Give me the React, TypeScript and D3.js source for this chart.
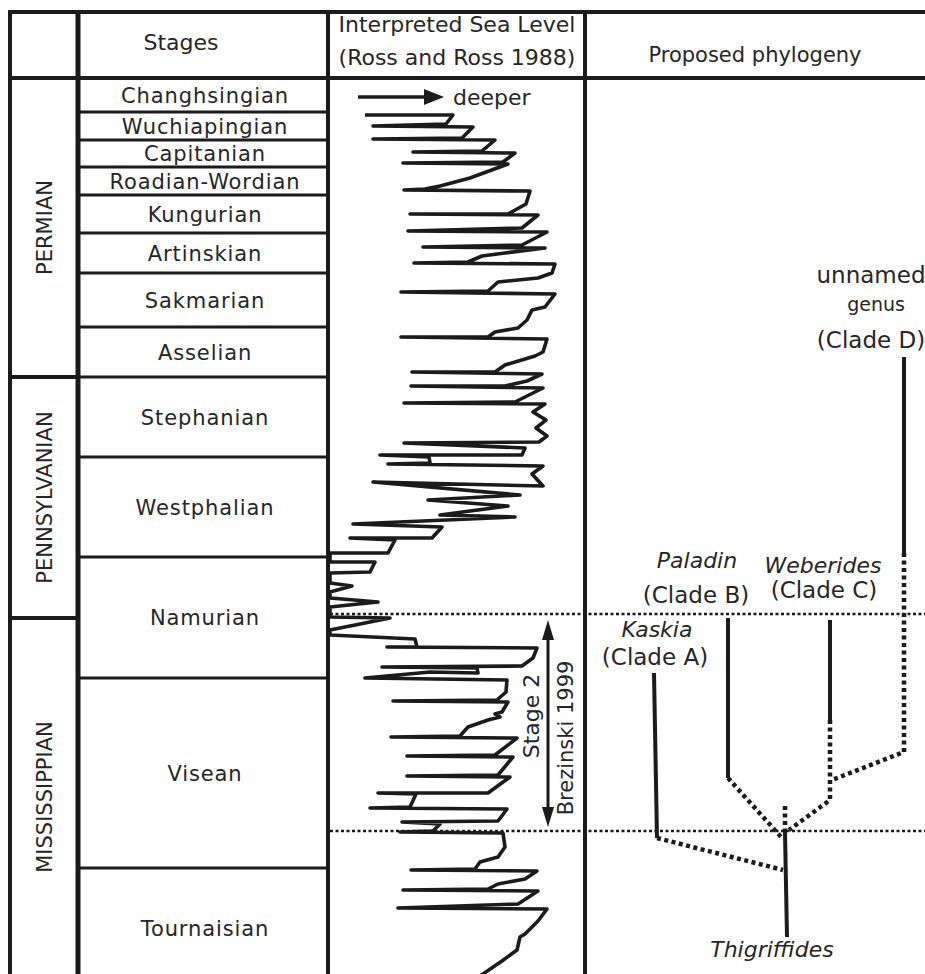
import React from 'react';
import * as d3 from 'd3';

const W = 925;
const H = 974;

// ---------- stratigraphy ----------
const stageNames = [
  'Changhsingian', 'Wuchiapingian', 'Capitanian', 'Roadian-Wordian', 'Kungurian',
  'Artinskian', 'Sakmarian', 'Asselian', 'Stephanian', 'Westphalian',
  'Namurian', 'Visean', 'Tournaisian',
];
const stageBounds = [0, 34, 62, 89, 117, 155, 195, 249, 299, 379, 479, 600, 790, 910];
const periodNames = ['PERMIAN', 'PENNSYLVANIAN', 'MISSISSIPPIAN'];
const periodBounds = [0, 299, 540, 910];

// ---------- sea level curve (Ross & Ross 1988): depth (right = deeper), stratigraphic position ----------
const seaLevelDepth = [
  37, 125, 118, 45, 145, 134, 45, 167, 154, 85, 187, 175, 75, 180, 142, 112, 97, 76, 202, 198,
  180, 82, 210, 194, 80, 219, 194, 95, 217, 177, 154, 140, 86, 227, 224, 210, 170, 160, 73, 227,
  217, 204, 199, 190, 167, 160, 73, 219, 215, 207, 177, 167, 84, 214, 199, 177, 83, 215, 187, 76,
  217, 205, 218, 208, 219, 211, 76, 197, 194, 52, 101, 102, 60, 215, 204, 215, 45, 192, 100, 180,
  112, 187, 25, 114, 104, 22, 67, 60, 2, 2, 47, 42, 2, 2, 24, 2, 2, 50, 2, 2,
  62, 2, 2, 87, 89, 85, 59, 209, 205, 194, 54, 149, 150, 102, 37, 179, 178, 169, 65, 180,
  174, 167, 172, 160, 140, 132, 63, 189, 167, 79, 185, 170, 79, 182, 160, 50, 88, 82, 42, 179,
  170, 74, 112, 105, 72, 175, 177, 170, 152, 147, 83, 209, 197, 170, 160, 75, 210, 190, 70, 219,
  210, 197, 192, 189, 174, 152,
];
const seaLevelPos = [
  37, 37, 46, 48, 49, 60, 61, 62, 73, 74, 75, 84, 85, 86, 100, 108, 111, 112, 113, 126,
  136, 136, 137, 150, 153, 154, 167, 169, 170, 175, 178, 184, 185, 186, 195, 200, 204, 213, 214, 216,
  229, 232, 242, 250, 254, 259, 259, 261, 274, 278, 287, 294, 294, 296, 303, 308, 308, 310, 324, 325,
  326, 334, 342, 350, 358, 364, 365, 370, 377, 377, 379, 385, 386, 388, 396, 408, 404, 417, 422, 428,
  437, 439, 446, 449, 460, 460, 462, 475, 475, 484, 484, 494, 495, 505, 508, 514, 520, 524, 529, 539,
  540, 552, 557, 561, 569, 569, 569, 570, 580, 588, 589, 590, 595, 594, 600, 602, 614, 622, 623, 624,
  634, 636, 639, 642, 649, 658, 659, 660, 677, 678, 679, 697, 698, 699, 715, 715, 716, 729, 730, 731,
  743, 744, 746, 753, 754, 755, 769, 779, 784, 791, 792, 793, 801, 806, 811, 812, 813, 826, 830, 831,
  843, 856, 859, 872, 883, 898,
];

const stage2Span = [542, 749];
const correlationLevels = [536, 753];

// ---------- proposed phylogeny (x: morphological spread, y: stratigraphic position) ----------
const branchSolid = [
  [[319, 279], [319, 475]],
  [[245, 542], [245, 642]],
  [[143, 540], [143, 700]],
  [[200, 754], [202, 859]],
  [[69, 595], [72, 760]],
];
const branchDotted = [
  [[319, 475], [319, 674], [247, 702]],
  [[245, 642], [245, 722], [204, 752]],
  [[143, 700], [197, 760]],
  [[200, 728], [200, 754]],
  [[72, 760], [198, 792]],
];
const taxonLabels = [
  { text: 'Paladin', italic: true, size: 22 },
  { text: '(Clade B)', italic: false, size: 23 },
  { text: 'Weberides', italic: true, size: 22 },
  { text: '(Clade C)', italic: false, size: 23 },
  { text: 'Kaskia', italic: true, size: 22 },
  { text: '(Clade A)', italic: false, size: 23 },
  { text: 'Thigriffides', italic: true, size: 22 },
  { text: 'unnamed', italic: false, size: 23 },
  { text: 'genus', italic: false, size: 19 },
  { text: '(Clade D)', italic: false, size: 23 },
];
const taxonAnchors = [
  [112, 490], [111, 525], [238, 495], [239, 520], [72, 559],
  [70, 587], [187, 879], [286, 205], [291, 233], [286, 270],
];

const FONT = "'DejaVu Sans', sans-serif";
const INK = '#1b1b1b';
const TXT = '#262626';

export default function App() {
  const yPos = d3.scaleLinear().domain([0, 896]).range([78, 974]);
  const xSea = d3.scaleLinear().domain([0, 257]).range([328, 585]);
  const xPhy = d3.scaleLinear().domain([0, 340]).range([585, 925]);

  const seaPts: [number, number][] = seaLevelDepth.map((d, i) => [d, seaLevelPos[i]]);
  const seaLine = d3
    .line<[number, number]>()
    .x((d) => xSea(d[0]))
    .y((d) => yPos(d[1]))
    .curve(d3.curveLinear);
  const phyLine = d3
    .line<number[]>()
    .x((d) => xPhy(d[0]))
    .y((d) => yPos(d[1]));

  const colStage = [78, 328];
  const stageCx = 205;

  const ax = xSea(220);
  const ay0 = yPos(stage2Span[0]);
  const ay1 = yPos(stage2Span[1]);

  return (
    <svg
      width={W}
      height={H}
      viewBox={`0 0 ${W} ${H}`}
      style={{ position: 'absolute', left: 0, top: 0, background: '#fff' }}
      fontFamily={FONT}
      fontWeight={400}
    >
      <rect x={0} y={0} width={W} height={H} fill="#fff" />

      {/* frame */}
      <line x1={8} x2={W} y1={12} y2={12} stroke={INK} strokeWidth={4} />
      <line x1={8} x2={W} y1={78} y2={78} stroke={INK} strokeWidth={4} />
      <line x1={10} x2={10} y1={10} y2={H} stroke={INK} strokeWidth={4} />
      <line x1={78} x2={78} y1={10} y2={H} stroke={INK} strokeWidth={5} />
      <line x1={328} x2={328} y1={10} y2={H} stroke={INK} strokeWidth={4} />
      <line x1={585} x2={585} y1={10} y2={H} stroke={INK} strokeWidth={4} />

      {/* headers */}
      <text x={181} y={50} fontSize={22} textAnchor="middle" fill={TXT}>Stages</text>
      <text x={457} y={32} fontSize={22} textAnchor="middle" fill={TXT}>Interpreted Sea Level</text>
      <text x={457} y={65} fontSize={22} textAnchor="middle" fill={TXT}>(Ross and Ross 1988)</text>
      <text x={755} y={62} fontSize={21} textAnchor="middle" fill={TXT}>Proposed phylogeny</text>

      {/* periods */}
      {periodNames.map((p, i) => {
        const y0 = yPos(periodBounds[i]);
        const cy = (yPos(periodBounds[i]) + yPos(periodBounds[i + 1])) / 2 - (i === 2 ? 6 : 0);
        return (
          <g key={p}>
            {i > 0 && <line x1={10} x2={78} y1={y0} y2={y0} stroke={INK} strokeWidth={4} />}
            <text
              transform={`translate(44,${cy}) rotate(-90)`}
              fontSize={21}
              textAnchor="middle"
              dy="0.36em"
              fill={TXT}
            >
              {p}
            </text>
          </g>
        );
      })}

      {/* stages */}
      {stageNames.map((s, i) => {
        const y0 = yPos(stageBounds[i]);
        const cy = (yPos(stageBounds[i]) + yPos(stageBounds[i + 1])) / 2;
        return (
          <g key={s}>
            {i > 0 && (
              <line x1={colStage[0]} x2={colStage[1]} y1={y0} y2={y0} stroke={INK} strokeWidth={3} />
            )}
            <text
              x={stageCx}
              y={cy}
              dy="0.36em"
              fontSize={21}
              letterSpacing={0.9}
              textAnchor="middle"
              fill={TXT}
            >
              {s}
            </text>
          </g>
        );
      })}

      {/* correlation levels */}
      {correlationLevels.map((c) => (
        <line
          key={c}
          x1={330}
          x2={W}
          y1={yPos(c)}
          y2={yPos(c)}
          stroke={INK}
          strokeWidth={2.5}
          strokeDasharray="3 2.5"
        />
      ))}

      {/* sea level curve */}
      <path d={seaLine(seaPts) || ''} fill="none" stroke={INK} strokeWidth={3.6} strokeLinejoin="round" />

      {/* deeper arrow */}
      <line x1={358} x2={428} y1={97} y2={97} stroke={INK} strokeWidth={3.5} />
      <path d="M424,89 L444,97 L424,105 Z" fill={INK} />
      <text x={453} y={105} fontSize={22} fill={TXT}>deeper</text>

      {/* stage 2 arrow */}
      <line x1={ax} x2={ax} y1={ay0 + 16} y2={ay1 - 16} stroke={INK} strokeWidth={3} />
      <path d={`M${ax},${ay0} L${ax - 6},${ay0 + 20} L${ax + 6},${ay0 + 20} Z`} fill={INK} />
      <path d={`M${ax},${ay1} L${ax - 6},${ay1 - 20} L${ax + 6},${ay1 - 20} Z`} fill={INK} />
      <text transform={`translate(531,716) rotate(-90)`} fontSize={22} textAnchor="middle" dy="0.36em" fill={TXT}>
        Stage 2
      </text>
      <text transform={`translate(565,738) rotate(-90)`} fontSize={21} textAnchor="middle" dy="0.36em" fill={TXT}>
        Brezinski 1999
      </text>

      {/* phylogeny */}
      {branchSolid.map((b, i) => (
        <path key={'s' + i} d={phyLine(b) || ''} fill="none" stroke={INK} strokeWidth={4} />
      ))}
      {branchDotted.map((b, i) => (
        <path
          key={'d' + i}
          d={phyLine(b) || ''}
          fill="none"
          stroke={INK}
          strokeWidth={4.5}
          strokeDasharray="4 3.5"
        />
      ))}
      {taxonLabels.map((t, i) => (
        <text
          key={t.text}
          x={xPhy(taxonAnchors[i][0])}
          y={yPos(taxonAnchors[i][1])}
          fontSize={t.size}
          fontStyle={t.italic ? 'italic' : 'normal'}
          textAnchor="middle"
          fill={TXT}
        >
          {t.text}
        </text>
      ))}
    </svg>
  );
}
